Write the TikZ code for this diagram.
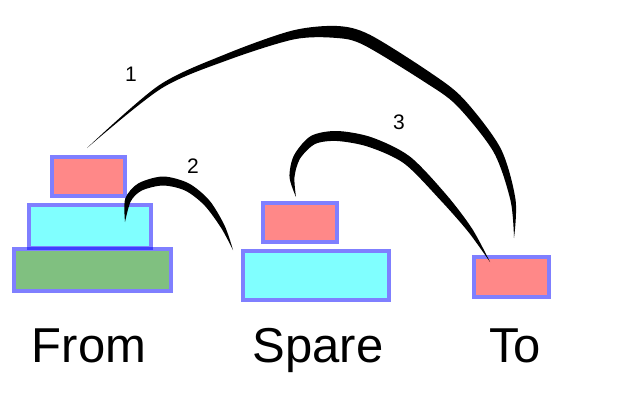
\documentclass[tikz,border=0pt]{standalone}
\usepackage{fontspec}
\setmainfont{Liberation Sans}
\usetikzlibrary{positioning}
\definecolor{diskred}{RGB}{255,136,136}
\definecolor{diskcyan}{RGB}{128,255,255}
\definecolor{diskgreen}{RGB}{128,192,128}

\begin{document}
\begin{tikzpicture}[
    x=1pt, y=-1pt,
    disk/.style={inner sep=0pt, outer sep=2pt},
    rim/.style={draw=blue, draw opacity=0.5, line width=4pt},
    pegname/.style={font=\fontsize{49}{58}\selectfont, anchor=base},
    movenum/.style={font=\fontsize{21}{25}\selectfont},
    movearc/.style={fill=black},
]
\useasboundingbox (0,0) rectangle (640,400);

% --- Disks ---
\node[disk, fill=diskgreen, minimum width=153pt, minimum height=38pt] (fbot) at (92.5,270) {};
\node[disk, fill=diskcyan, minimum width=118pt, minimum height=39pt] (fmid) at (90,226.5) {};
\node[disk, fill=diskred, minimum width=69pt, minimum height=35pt] (ftop) at (88.5,176.5) {};
\node[disk, fill=diskcyan, minimum width=142pt, minimum height=45pt] (sbot) at (316,275.5) {};
\node[disk, fill=diskred, minimum width=70pt, minimum height=35pt] (stop) at (300,222.5) {};
\node[disk, fill=diskred, minimum width=71pt, minimum height=36pt] (tdisk) at (511.5,277) {};
\foreach \d in {fbot,fmid,ftop,sbot,stop,tdisk}
    \draw[rim] (\d.south west) rectangle (\d.north east);

% --- Peg names ---
\node[pegname] (from) at (89,362.5) {From};
\node[pegname] (spare) at (318,362.5) {Spare};
\node[pegname] (to) at (515,362.5) {To};

% --- Moves ---
\coordinate (m1s) at (87,148);
\coordinate (m1e) at (514,238);
\coordinate (m2s) at (125,222);
\coordinate (m2e) at (233,250);
\coordinate (m3s) at (296,197);
\coordinate (m3e) at (490,262);

\fill[movearc] plot[smooth] coordinates {(m1s) (158.7,85.5) (226,54) (291.8,30.7)
        (337,26) (369.7,34.7) (430,72.4) (463.4,98.7) (500.5,148.1) (515.5,199.5) (m1e)}
    -- plot[smooth] coordinates {(m1e) (510.5,200.5) (493.5,151.9) (456.6,105.4)
        (424,81.6) (364.3,45.3) (337,38) (294.2,39.3) (228,60) (161.3,88.5) (m1s)}
    -- cycle;
\fill[movearc] plot[smooth] coordinates {(m2s) (125.2,198.8) (138.1,183.5) (163,176.5)
        (188.8,183.4) (209.6,200.7) (224.8,226) (m2e)}
    -- plot[smooth] coordinates {(m2e) (221.2,228) (204.4,205.3) (185.2,190.6)
        (163,185.5) (141.9,190.5) (130.8,201.2) (m2s)}
    -- cycle;
\fill[movearc] plot[smooth] coordinates {(m3s) (289.5,177) (294,155.3) (310.9,136)
        (337,131) (371.6,137.3) (409.7,156.4) (446,194.3) (472,228.5) (m3e)}
    -- plot[smooth] coordinates {(m3e) (468,231.5) (440,199.7) (404.3,163.6)
        (368.4,146.8) (337,141) (315.1,144) (300,158.7) (294.5,177) (m3s)}
    -- cycle;

\node[movenum] (n1) at (131,74) {1};
\node[movenum] (n2) at (193,166) {2};
\node[movenum] (n3) at (399,122) {3};
\end{tikzpicture}
\end{document}
